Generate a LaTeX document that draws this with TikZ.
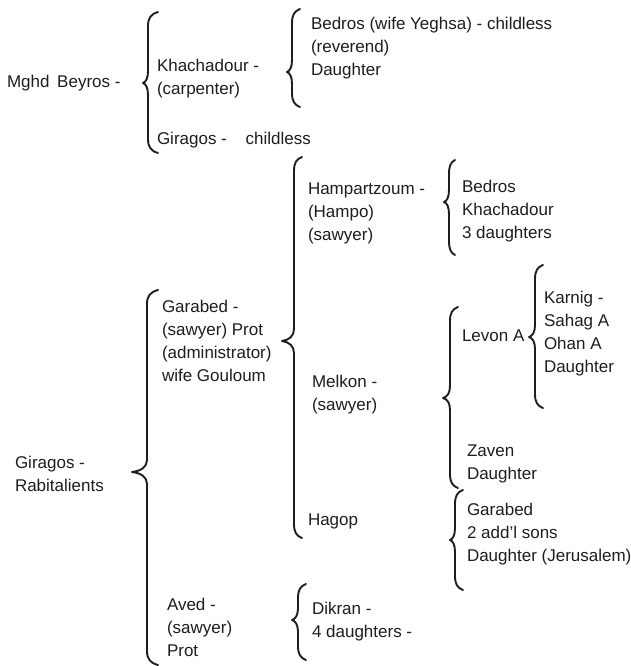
\documentclass[tikz,border=0pt]{standalone}
\usepackage{fontspec}
\setmainfont{Liberation Sans}
\definecolor{ink}{HTML}{1E1E1E}

% Curly brace opening to the right:
% #1 x of the vertical stroke, #2 reach of the end hooks, #3 depth of the point,
% #4 top y, #5 y of the point, #6 bottom y (y grows downwards)
\newcommand\kinbrace[6]{%
  \draw[bracestroke]
    (#1+#2, #4) .. controls (#1+0.3*#2, #4+2) and (#1, #4+6) .. (#1, #4+14)
    -- (#1, #5-12) .. controls (#1, #5-5) and (#1-0.4*#3, #5-1) .. (#1-#3, #5)
    .. controls (#1-0.4*#3, #5+1) and (#1, #5+5) .. (#1, #5+12)
    -- (#1, #6-14) .. controls (#1, #6-6) and (#1+0.3*#2, #6-2) .. (#1+#2, #6);}

\begin{document}
\begin{tikzpicture}[x=1pt, y=-1pt,
  person/.style={anchor=west, inner sep=0pt, outer sep=0pt, align=left,
    text=ink, font=\fontsize{17}{23}\selectfont},
  bracestroke/.style={draw=ink, line width=1.9pt, line cap=round, line join=round}]

\useasboundingbox[fill=white] (0,0) rectangle (631,666);

% ---- first family line ----
\node[person] (mghd)   at (7,83)    {Mghd\hspace{3pt} Beyros -};
\node[person] (khach)  at (157,79)  {Khachadour -\\(carpenter)};
\node[person] (girchl) at (157,140) {Giragos -\hspace{14pt} childless};
\node[person] (bedros) at (311,48.5){Bedros (wife Yeghsa) - childless\\(reverend)\\Daughter};

\kinbrace{148}{10}{5}{12}{83}{153}
\kinbrace{292}{8}{5}{9}{72}{107}

% ---- second family line ----
\node[person] (girrab)  at (15,474)  {Giragos -\\Rabitalients};
\node[person] (garabed) at (162,341) {Garabed -\\(sawyer) Prot\\(administrator)\\wife Gouloum};
\node[person] (aved)    at (167,627.5) {Aved -\\(sawyer)\\Prot};

\node[person] (hamp)    at (308,213) {Hampartzoum -\\(Hampo)\\(sawyer)};
\node[person] (melkon)  at (312,395) {Melkon -\\(sawyer)};
\node[person] (hagop)   at (308,521) {Hagop};
\node[person] (dikran)  at (312,622) {Dikran -\\4 daughters -};

\node[person] (hampkids)  at (462,211) {Bedros\\Khachadour\\3 daughters};
\node[person] (levon)     at (462,336) {Levon A};
\node[person] (zaven)     at (467,463.5) {Zaven\\Daughter};
\node[person] (hagopkids) at (467,534) {Garabed\\2 add'l sons\\Daughter (Jerusalem)};
\node[person] (levonkids) at (544,334) {Karnig -\\Sahag A\\Ohan A\\Daughter};

\kinbrace{147}{11}{15}{290}{472}{665}
\kinbrace{294}{8}{12}{157}{341}{538}
\kinbrace{298}{8}{6}{584}{620}{660}
\kinbrace{449}{6}{5}{160}{202}{255}
\kinbrace{450}{8}{7}{307}{398}{488}
\kinbrace{455}{8}{5}{490}{540}{590}
\kinbrace{535}{8}{6}{265}{337}{408}

\end{tikzpicture}
\end{document}
